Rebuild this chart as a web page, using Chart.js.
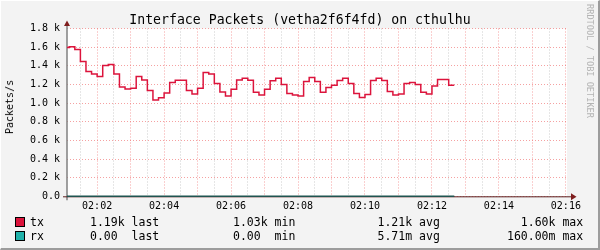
<!DOCTYPE html>
<html>
<head>
<meta charset="utf-8">
<script src="https://cdn.jsdelivr.net/npm/chart.js@4/dist/chart.umd.min.js"></script>
<style>
  html, body { margin: 0; padding: 0; background: #f3f3f3; }
  #wrap { position: relative; width: 600px; height: 250px; overflow: hidden; font-family: 'DejaVu Sans Mono', monospace; color: #000; }
  #wrap canvas { position: absolute; left: 0; top: 0; }
  .frame { position: absolute; left: 0; top: 0; width: 598px; height: 248px; border-top: 1px solid #fff; border-left: 1px solid #fff; border-right: 2px solid #9c9c9c; border-bottom: 2px solid #9c9c9c; box-sizing: border-box; width: 600px; height: 250px; pointer-events: none; }
  .title { position: absolute; left: 0; top: 12px; width: 600px; text-align: center; font-size: 13.2px; line-height: 15px; white-space: pre; }
  .ylabel { position: absolute; left: 10px; top: 107px; font-size: 10px; line-height: 12px; white-space: pre; transform: translate(-50%, -50%) rotate(-90deg); }
  .mark { position: absolute; left: 590px; top: 61px; font-size: 8.6px; line-height: 10px; color: #b4b4b4; white-space: pre; transform: translate(-50%, -50%) rotate(90deg); }
  .lg { position: absolute; font-size: 11.5px; line-height: 13px; white-space: pre; }
  .box { position: absolute; width: 8px; height: 8px; border: 1px solid #000; }
</style>
</head>
<body>
<div id="wrap">
  <canvas id="chart" width="600" height="250"></canvas>
  <div class="title">Interface Packets (vetha2f6f4fd) on cthulhu</div>
  <div class="ylabel">Packets/s</div>
  <div class="mark">RRDTOOL / TOBI OETIKER</div>
  <div class="frame"></div>
</div>
<script>
// time is in seconds after 02:00, samples every 10 s
let axisStart = 66
let axisEnd = 962
let firstSample = 66
let stepStart = 70
let stepSize = 10

let txValues = [
  1597, 1604, 1576, 1447, 1340, 1311, 1286, 1404, 1415, 1311,
  1172, 1150, 1158, 1286, 1247, 1136, 1032, 1057, 1107, 1222,
  1244, 1244, 1136, 1097, 1158, 1329, 1311, 1211, 1118, 1075,
  1147, 1247, 1265, 1244, 1115, 1086, 1147, 1240, 1265, 1200,
  1104, 1086, 1075, 1232, 1275, 1232, 1115, 1168, 1190, 1243,
  1265, 1211, 1104, 1061, 1093, 1243, 1265, 1243, 1125, 1086,
  1097, 1211, 1222, 1200, 1115, 1097, 1182, 1254, 1254, 1190
]
let rxValues = [
  0, 0, 0, 0, 0, 0, 0, 0, 0, 0,
  0, 0, 0, 0, 0, 0, 0, 0, 0, 0,
  0, 0, 0, 0, 0, 0, 0, 0, 0, 0,
  0, 0, 0, 0, 0, 0, 0, 0, 0, 0,
  0, 0, 0, 0, 0, 0, 0, 0, 0, 0.16,
  0, 0, 0, 0, 0, 0, 0, 0, 0, 0,
  0, 0, 0, 0, 0, 0, 0, 0, 0, 0
]

let yTicks = [0, 100, 200, 300, 400, 500, 600, 700, 800, 900, 1000, 1100, 1200, 1300, 1400, 1500, 1600, 1700, 1800]
let xTicks = [90, 120, 150, 180, 210, 240, 270, 300, 330, 360, 390, 420, 450, 480, 510, 540, 570, 600,
  630, 660, 690, 720, 750, 780, 810, 840, 870, 900, 930, 960]

let seriesNames = ['tx', 'rx']
let seriesColors = ['#dc143c', '#20b2aa']
let lastText = ['1.19k last', '0.00  last']
let minText = ['1.03k min', '0.00  min']
let avgText = ['1.21k avg', '5.71m avg']
let maxText = ['  1.60k max', '160.00m max']

function toPoints (values) {
  let pts = values.map(function (v, i) {
    return { x: i === 0 ? firstSample : stepStart + (i - 1) * stepSize, y: v }
  })
  // close the last step
  pts.push({ x: stepStart + (values.length - 1) * stepSize, y: values[values.length - 1] })
  return pts
}

function clock (sec) {
  let m = Math.floor(sec / 60)
  return '02:' + (m < 10 ? '0' : '') + m
}

// legend rows
let wrap = document.getElementById('wrap')
seriesNames.forEach(function (name, i) {
  let top = 215.5 + i * 14
  let box = document.createElement('div')
  box.className = 'box'
  box.style.left = '15px'
  box.style.top = (top + 1.5) + 'px'
  box.style.background = seriesColors[i]
  wrap.appendChild(box)
  let cols = [[30, name], [90, lastText[i]], [233, minText[i]], [377.5, avgText[i]], [507, maxText[i]]]
  cols.forEach(function (c) {
    let s = document.createElement('span')
    s.className = 'lg'
    s.style.left = c[0] + 'px'
    s.style.top = top + 'px'
    s.textContent = c[1]
    wrap.appendChild(s)
  })
})

const rrdFrame = {
  id: 'rrdFrame',
  beforeDraw (chart) {
    const { ctx, chartArea: a } = chart
    ctx.save()
    ctx.fillStyle = '#ffffff'
    ctx.fillRect(a.left, a.top, a.right - a.left, a.bottom - a.top)
    ctx.restore()
  },
  beforeDatasetsDraw (chart) {
    const { ctx, chartArea: a } = chart
    ctx.save()
    // axis lines running past the plot, rrdtool style
    ctx.strokeStyle = '#808080'
    ctx.lineWidth = 1.5
    ctx.beginPath()
    ctx.moveTo(a.left, 25)
    ctx.lineTo(a.left, a.bottom + 4)
    ctx.stroke()
    ctx.strokeStyle = '#5c1f1f'
    ctx.lineWidth = 1
    ctx.beginPath()
    ctx.moveTo(a.left - 4, a.bottom + 0.5)
    ctx.lineTo(a.right + 5, a.bottom + 0.5)
    ctx.stroke()
    // arrows
    ctx.fillStyle = '#7f1d1d'
    ctx.beginPath()
    ctx.moveTo(a.left - 3, 26)
    ctx.lineTo(a.left + 3, 26)
    ctx.lineTo(a.left, 20.5)
    ctx.closePath()
    ctx.fill()
    ctx.beginPath()
    ctx.moveTo(a.right + 4, a.bottom - 3)
    ctx.lineTo(a.right + 4, a.bottom + 4)
    ctx.lineTo(a.right + 9.5, a.bottom + 0.5)
    ctx.closePath()
    ctx.fill()
    ctx.restore()
  }
}

function gridColor (major) {
  return major ? 'rgba(240, 110, 110, 0.65)' : 'rgba(170, 170, 170, 0.6)'
}

let ctx = document.getElementById('chart').getContext('2d')
let myChart = new Chart(ctx, {
  type: 'line',
  data: {
    datasets: [
      {
        label: 'rx',
        data: toPoints(rxValues),
        borderColor: '#1f5450',
        borderWidth: 1.5,
        stepped: true,
        pointRadius: 0,
        clip: 3
      },
      {
        label: 'tx',
        data: toPoints(txValues),
        borderColor: seriesColors[0],
        borderWidth: 1.5,
        stepped: true,
        pointRadius: 0
      }
    ]
  },
  options: {
    responsive: false,
    animation: false,
    events: [],
    layout: { padding: { left: 0, right: 33, top: 28.5, bottom: 33.7 } },
    plugins: {
      legend: { display: false },
      tooltip: { enabled: false }
    },
    scales: {
      x: {
        type: 'linear',
        min: axisStart,
        max: axisEnd,
        afterFit: function (scale) { scale.height = 20 },
        afterBuildTicks: function (scale) {
          scale.ticks = xTicks.map(function (v) { return { value: v } })
        },
        grid: {
          drawTicks: false,
          lineWidth: 1,
          color: function (c) { return gridColor(c.tick && c.tick.value % 60 === 0) }
        },
        border: { display: false, dash: [1, 2] },
        ticks: {
          autoSkip: false,
          maxRotation: 0,
          padding: 4,
          color: '#000',
          font: { family: 'DejaVu Sans Mono', size: 10 },
          callback: function (v) { return v % 120 === 0 ? clock(v) : '' }
        }
      },
      y: {
        min: 0,
        max: 1800,
        afterFit: function (scale) { scale.width = 67 },
        afterBuildTicks: function (scale) {
          scale.ticks = yTicks.map(function (v) { return { value: v } })
        },
        grid: {
          drawTicks: false,
          lineWidth: 1,
          color: function (c) { return gridColor(c.tick && c.tick.value % 200 === 0) }
        },
        border: { display: false, dash: [1, 2] },
        ticks: {
          padding: 7,
          color: '#000',
          font: { family: 'DejaVu Sans Mono', size: 10 },
          callback: function (v) {
            if (v % 200 !== 0) return ''
            return v === 0 ? '0.0' : (v / 1000).toFixed(1) + ' k'
          }
        }
      }
    }
  },
  plugins: [rrdFrame]
})
</script>
</body>
</html>
